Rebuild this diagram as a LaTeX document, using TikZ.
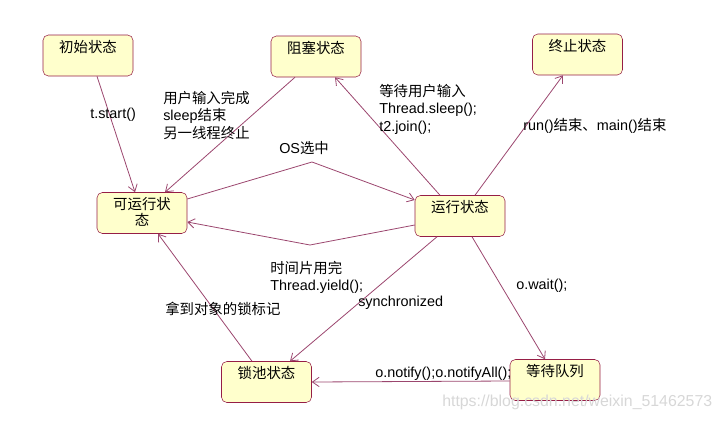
\documentclass[tikz,border=0pt]{standalone}
\usepackage{fontspec}
\setmainfont{Liberation Sans}
\newfontfamily\cjk{Noto Sans CJK SC}
\usetikzlibrary{arrows.meta,calc}
\definecolor{boxred}{RGB}{150,30,70}
\definecolor{boxfill}{RGB}{255,255,204}
\definecolor{linered}{RGB}{155,70,110}
\definecolor{markgray}{RGB}{215,215,215}

\begin{document}
\begin{tikzpicture}[x=0.75pt, y=-0.75pt, >={Straight Barb[length=5pt,width=7pt]},
    state/.style={draw=boxred, fill=boxfill, rounded corners=4pt, minimum width=67.5pt,
      inner sep=2pt, align=center, text height=10.75pt, text depth=16pt,
      font=\fontsize{10.8}{12}\selectfont\cjk},
    trans/.style={->, draw=linered, line width=0.6pt},
    lbl/.style={anchor=north west, inner sep=0pt, align=left,
      font=\fontsize{10.8}{13}\selectfont}]
    \useasboundingbox (0,0) rectangle (721,421);

    % states
    \node[state] (init)     at (88,55.5)  {初始状态};
    \node[state] (blocked)  at (316,56.5) {阻塞状态};
    \node[state] (dead)     at (577.5,54.5) {终止状态};
    \node[state, text height=22.75pt, text depth=4pt] (runnable) at (142,213) {可运行状\\态};
    \node[state] (running)  at (460,216)  {运行状态};
    \node[state] (lockpool) at (266.5,382) {锁池状态};
    \node[state] (waitq)    at (555,380)  {等待队列};

    % bends of the two runnable <-> running lines
    \coordinate (osbend)    at (312,162);
    \coordinate (yieldbend) at (310,245);

    % transitions
    \draw[trans] ($(init.south)+(9,0)$) -- ($(runnable.north)+(-7,0)$);
    \draw[trans] ($(blocked.south)+(-21,0)$) -- ($(runnable.north)+(23,0)$);
    \draw[trans] ($(running.north)+(-20,0)$) -- ($(blocked.south)+(19,0)$);
    \draw[trans] ($(running.north)+(15,0)$) -- ($(dead.south)+(-14.5,0)$);
    \draw[trans] ($(runnable.east)+(0,-14)$) -- (osbend) -- ($(running.west)+(0,-16)$);
    \draw[trans] ($(running.west)+(0,9)$) -- (yieldbend) -- ($(runnable.east)+(0,9)$);
    \draw[trans] ($(running.south)+(-23,0)$) -- ($(lockpool.north)+(23.5,0)$);
    \draw[trans] ($(running.south)+(12,0)$) -- ($(waitq.north)+(-10,0)$);
    \draw[trans] ($(waitq.west)+(0,1)$) -- (lockpool.east);
    \draw[trans] ($(lockpool.north)+(-14.5,0)$) -- ($(runnable.south)+(16,0)$);

    % labels
    \node[lbl] (lstart)  at (90,108)  {t.start()};
    \node[lbl] (lwake)   at (163,91)  {{\cjk 用户输入完成}\\sleep{\cjk 结束}\\{\cjk 另一线程终止}};
    \node[lbl] (los)     at (279,141) {OS{\cjk 选中}};
    \node[lbl] (lsleep)  at (379,84)  {{\cjk 等待用户输入}\\Thread.sleep();\\t2.join();};
    \node[lbl] (lend)    at (523,118) {run(){\cjk 结束、}main(){\cjk 结束}};
    \node[lbl] (lyield)  at (270,261) {{\cjk 时间片用完}\\Thread.yield();};
    \node[lbl] (lsync)   at (358,296) {synchronized};
    \node[lbl] (lwait)   at (516,279) {o.wait();};
    \node[lbl] (llock)   at (165,302) {\cjk 拿到对象的锁标记};
    \node[lbl] (lnotify) at (375,367) {o.notify();o.notifyAll();};
    \node[lbl, text=markgray, font=\fontsize{11.9}{13}\selectfont] (lmark) at (442,395)
      {https://blog.csdn.net/weixin\_51462573};
\end{tikzpicture}
\end{document}
